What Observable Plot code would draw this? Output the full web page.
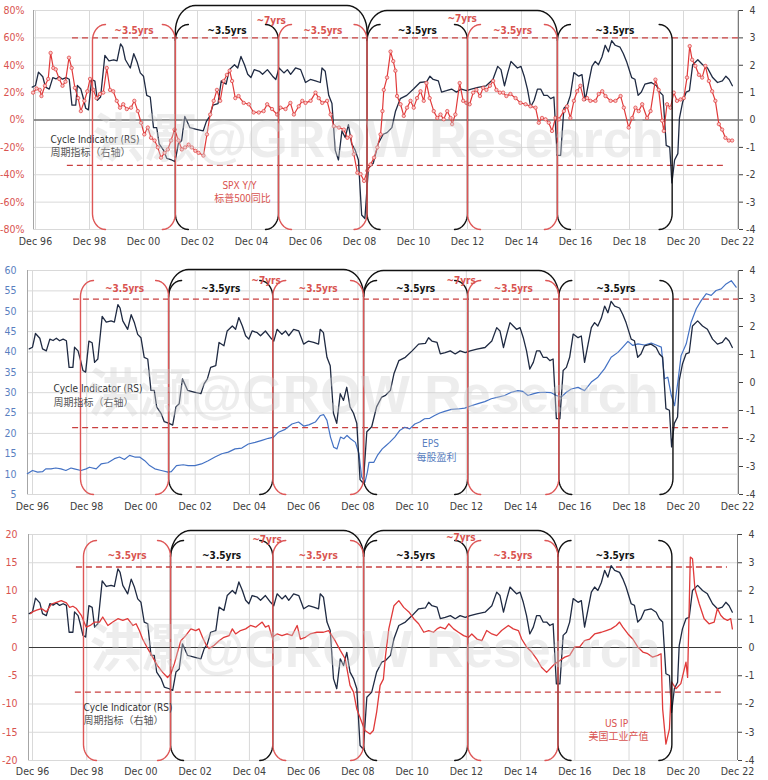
<!DOCTYPE html>
<html><head><meta charset="utf-8">
<script src="https://cdn.jsdelivr.net/npm/d3@7"></script>
<script src="https://cdn.jsdelivr.net/npm/@observablehq/plot@0.6"></script>
<style>
body{margin:0;background:#fff;}
#chart{width:768px;}
#chart svg{display:block;}
</style></head><body><div id="chart"></div>
<script>
// ---------- DATA ----------
const xTicks = [1996.92,1998.92,2000.92,2002.92,2004.92,2006.92,2008.92,2010.92,2012.92,2014.92,2016.92,2018.92,2020.92,2022.92];
const xTickLabels = ["Dec 96","Dec 98","Dec 00","Dec 02","Dec 04","Dec 06","Dec 08","Dec 10","Dec 12","Dec 14","Dec 16","Dec 18","Dec 20","Dec 22"];
const leftTicks1 = [-80,-60,-40,-20,0,20,40,60,80];
const leftTicks2 = [5,10,15,20,25,30,35,40,45,50,55,60];
const leftTicks3 = [-20,-15,-10,-5,0,5,10,15,20];
const rightTicks = [-4,-3,-2,-1,0,1,2,3,4];

// Cycle Indicator (RS, right axis) [year, value]
const cycle = [[1996.8,1.2],[1996.92,1.26],[1997.03,1.75],[1997.19,1.58],[1997.29,1.2],[1997.43,1.13],[1997.56,1.55],[1997.68,1.5],[1997.8,1.58],[1997.92,1.49],[1998.05,1.55],[1998.17,1.49],[1998.27,0.54],[1998.41,0.54],[1998.47,1.26],[1998.6,1.13],[1998.68,0.84],[1998.78,0.43],[1998.88,0.37],[1999.0,1.48],[1999.12,1.42],[1999.21,0.72],[1999.33,0.84],[1999.49,2.36],[1999.64,2.16],[1999.82,2.2],[1999.94,2.16],[2000.07,2.78],[2000.15,2.66],[2000.25,2.2],[2000.43,1.9],[2000.56,2.42],[2000.68,2.13],[2000.8,1.72],[2000.92,1.6],[2001.04,0.9],[2001.17,0.84],[2001.29,-0.28],[2001.41,-0.28],[2001.5,-0.87],[2001.66,-1.1],[2001.78,-1.4],[2001.96,-1.46],[2002.09,-1.52],[2002.21,-0.87],[2002.33,-0.76],[2002.45,0.13],[2002.64,-0.28],[2002.88,-0.34],[2003.13,-0.4],[2003.25,-0.05],[2003.37,0.13],[2003.49,0.54],[2003.68,0.6],[2003.8,1.43],[2003.98,1.31],[2004.1,1.84],[2004.29,2.02],[2004.41,1.9],[2004.53,2.32],[2004.66,2.02],[2004.78,1.67],[2004.9,1.55],[2005.02,1.84],[2005.21,1.78],[2005.33,1.67],[2005.51,1.84],[2005.7,1.6],[2005.82,1.48],[2005.94,1.9],[2006.12,1.72],[2006.25,1.84],[2006.37,1.67],[2006.55,1.9],[2006.74,1.84],[2006.92,1.37],[2007.1,1.48],[2007.29,1.43],[2007.47,1.37],[2007.53,1.9],[2007.65,1.78],[2007.78,0.9],[2007.9,0.6],[2008.02,-1.1],[2008.14,-1.46],[2008.27,-0.4],[2008.39,-0.64],[2008.51,-0.17],[2008.63,-0.87],[2008.76,-1.1],[2008.88,-1.46],[2009.0,-3.47],[2009.12,-3.6],[2009.25,-1.76],[2009.43,-1.58],[2009.61,-0.87],[2009.8,-0.52],[2009.94,-0.46],[2010.12,-0.28],[2010.25,0.31],[2010.43,0.78],[2010.67,0.9],[2010.92,1.13],[2011.16,1.37],[2011.41,1.4],[2011.53,1.6],[2011.65,1.48],[2011.84,1.43],[2011.96,1.02],[2012.14,1.07],[2012.33,1.13],[2012.51,1.02],[2012.69,1.13],[2012.88,1.07],[2013.06,1.13],[2013.31,1.19],[2013.61,1.25],[2013.86,1.48],[2014.04,1.96],[2014.16,1.84],[2014.29,1.25],[2014.41,1.72],[2014.53,2.14],[2014.65,2.02],[2014.77,1.9],[2014.9,1.96],[2015.02,1.6],[2015.14,1.13],[2015.26,0.48],[2015.39,0.72],[2015.51,1.13],[2015.63,1.13],[2015.75,0.9],[2015.88,0.9],[2016.0,0.78],[2016.12,0.84],[2016.24,-1.29],[2016.37,-1.29],[2016.49,0.43],[2016.61,0.54],[2016.73,0.9],[2016.86,1.73],[2017.04,1.6],[2017.16,1.66],[2017.28,0.72],[2017.41,1.37],[2017.53,1.96],[2017.65,2.14],[2017.77,2.02],[2017.9,2.3],[2018.02,2.73],[2018.14,2.49],[2018.26,2.9],[2018.39,2.73],[2018.57,2.66],[2018.69,2.43],[2018.81,2.14],[2019.0,1.55],[2019.12,1.49],[2019.24,0.9],[2019.36,1.02],[2019.49,1.31],[2019.73,1.37],[2019.92,1.25],[2020.04,1.02],[2020.16,0.9],[2020.28,-0.93],[2020.41,-0.99],[2020.49,-2.3],[2020.59,-1.46],[2020.71,-1.23],[2020.77,0.07],[2020.89,0.66],[2021.02,1.02],[2021.14,1.07],[2021.26,2.02],[2021.45,2.2],[2021.63,2.02],[2021.81,1.9],[2022.0,1.55],[2022.18,1.37],[2022.36,1.43],[2022.49,1.6],[2022.61,1.48],[2022.73,1.25]];

// SPX Y/Y % (left axis, panel 1)
const spx = [[1996.83,20],[1996.96,23],[1997.08,22],[1997.14,17.5],[1997.27,25],[1997.39,30],[1997.48,49],[1997.58,38],[1997.67,37],[1997.8,30],[1997.92,25],[1998.03,28],[1998.16,45.5],[1998.26,38],[1998.38,23.5],[1998.5,16],[1998.6,6.5],[1998.73,14],[1998.84,21],[1998.94,30],[1999.06,22],[1999.18,16],[1999.31,19],[1999.43,20],[1999.56,38],[1999.68,22],[1999.8,21],[1999.93,14],[2000.05,9],[2000.17,11.5],[2000.3,8],[2000.46,9],[2000.58,14],[2000.71,6.5],[2000.83,-2],[2000.95,-10.5],[2001.08,-5.5],[2001.2,-13],[2001.33,-15],[2001.45,-20],[2001.57,-27.5],[2001.7,-24],[2001.82,-21.5],[2001.94,-15],[2002.07,-7],[2002.22,-15],[2002.34,-21.5],[2002.46,-20],[2002.59,-18],[2002.71,-20],[2002.84,-22.5],[2002.96,-24],[2003.14,-26],[2003.27,-10.5],[2003.39,4],[2003.52,14],[2003.64,22],[2003.76,14],[2003.89,28.5],[2004.01,33],[2004.11,36],[2004.2,28.5],[2004.32,16],[2004.44,17.5],[2004.63,12.5],[2004.82,11.5],[2005.0,5.5],[2005.19,5.5],[2005.37,6.5],[2005.5,11.5],[2005.68,8],[2005.87,4],[2005.99,9],[2006.18,8],[2006.36,12.5],[2006.49,4],[2006.67,10],[2006.8,14],[2006.92,12.5],[2007.11,14],[2007.29,20],[2007.41,16],[2007.54,12.5],[2007.72,14],[2007.85,4],[2007.97,-4.5],[2008.16,-5.5],[2008.34,-7],[2008.47,-13],[2008.59,-12],[2008.71,-25],[2008.84,-38.5],[2008.96,-39.5],[2009.09,-44.5],[2009.21,-37],[2009.33,-32.5],[2009.46,-27.5],[2009.58,-20],[2009.7,-10.5],[2009.77,6.5],[2009.82,22],[2009.94,31],[2010.07,50],[2010.17,43],[2010.25,36],[2010.31,17.5],[2010.44,11.5],[2010.56,3],[2010.68,9],[2010.81,14],[2010.93,9],[2011.05,16],[2011.18,21],[2011.3,14],[2011.4,27],[2011.52,16],[2011.67,6.5],[2011.8,1.5],[2011.92,4],[2012.04,0.5],[2012.17,6.5],[2012.29,1.5],[2012.35,-3],[2012.47,4],[2012.63,27],[2012.76,14],[2012.88,12.5],[2013.0,11.5],[2013.13,20],[2013.25,22],[2013.38,17.5],[2013.5,23.5],[2013.62,22],[2013.75,25],[2013.87,28.5],[2013.99,22],[2014.12,20],[2014.24,20],[2014.36,17.5],[2014.51,19],[2014.7,16],[2014.88,12.5],[2015.07,11.5],[2015.25,10],[2015.44,9],[2015.56,-2],[2015.68,1.5],[2015.81,0.5],[2015.93,-2],[2016.05,-8],[2016.18,1.5],[2016.3,0.5],[2016.49,6.5],[2016.61,10],[2016.73,1.5],[2016.86,14],[2016.98,21],[2017.1,25],[2017.23,15],[2017.35,16],[2017.47,14],[2017.66,14],[2017.78,19],[2017.91,21],[2018.03,17.5],[2018.22,14],[2018.4,14],[2018.59,17.5],[2018.71,9],[2018.89,-5.5],[2019.02,1.5],[2019.14,9],[2019.26,6.5],[2019.39,11.5],[2019.57,1.5],[2019.7,6.5],[2019.88,29.5],[2020.0,22],[2020.13,-0.5],[2020.19,-8],[2020.31,11.5],[2020.44,9],[2020.56,20],[2020.68,14],[2020.81,15],[2020.93,16],[2021.05,31],[2021.15,54],[2021.24,44],[2021.36,39.5],[2021.49,33],[2021.61,31],[2021.73,39.5],[2021.86,28.5],[2021.98,21],[2022.1,14],[2022.23,-3],[2022.35,-7],[2022.47,-13],[2022.6,-15],[2022.72,-15]];

// EPS (left axis, panel 2)
const eps = [[1996.73,10.1],[1996.92,10.9],[1997.11,10.5],[1997.29,10.6],[1997.41,11.3],[1997.6,11.3],[1997.78,11.5],[1997.97,11.3],[1998.15,10.9],[1998.34,11.5],[1998.46,11.3],[1998.71,10.9],[1998.9,11.3],[1999.02,11.7],[1999.27,11.3],[1999.45,12.5],[1999.7,12.8],[1999.94,13.8],[2000.13,14.2],[2000.31,13.6],[2000.5,14.6],[2000.69,14.2],[2000.87,14.2],[2001.06,13.3],[2001.24,12.1],[2001.43,11.3],[2001.67,10.9],[2001.92,10.5],[2002.04,10.6],[2002.23,12.1],[2002.48,12.3],[2002.66,12.1],[2002.91,12.1],[2003.15,12.5],[2003.4,13.3],[2003.65,14.2],[2003.9,15],[2004.14,15.4],[2004.39,16.2],[2004.64,16.4],[2004.88,17.4],[2005.13,17.8],[2005.38,18.3],[2005.62,18.8],[2005.81,19.1],[2005.99,20.3],[2006.24,21],[2006.49,22.3],[2006.73,22.8],[2006.92,21.8],[2007.11,22.1],[2007.35,22.8],[2007.54,24.4],[2007.66,24.6],[2007.78,23.2],[2007.91,19.1],[2008.03,16.6],[2008.15,16.2],[2008.28,19.1],[2008.4,18.7],[2008.52,19.5],[2008.65,18.7],[2008.83,17.8],[2008.96,15],[2009.06,9.3],[2009.18,8],[2009.27,10.5],[2009.33,12.9],[2009.51,12.9],[2009.64,14.6],[2009.82,16.2],[2009.94,16.9],[2010.09,17.8],[2010.28,19.1],[2010.46,20.7],[2010.65,21.5],[2010.83,21.1],[2011.02,22.3],[2011.2,22.8],[2011.38,23.6],[2011.57,23.7],[2011.75,24.4],[2011.94,25],[2012.12,25.4],[2012.37,25.9],[2012.61,26],[2012.86,26.2],[2013.1,26.8],[2013.35,27.3],[2013.6,27.8],[2013.84,28.5],[2014.09,28.9],[2014.33,29.3],[2014.58,30.1],[2014.82,30.5],[2015.01,30.3],[2015.19,29.3],[2015.38,29.7],[2015.56,30],[2015.81,30.1],[2016.05,30],[2016.24,29.3],[2016.42,28.9],[2016.61,30.1],[2016.79,30.9],[2017.04,31.3],[2017.28,30.5],[2017.53,32.6],[2017.77,33.8],[2018.02,35.9],[2018.26,38.7],[2018.51,39.9],[2018.69,41.2],[2018.88,42.6],[2019.06,41.6],[2019.25,42],[2019.49,41.7],[2019.74,42.2],[2019.92,41.7],[2020.11,41.2],[2020.23,33.4],[2020.35,33.8],[2020.48,29.3],[2020.6,26.8],[2020.72,32.6],[2020.84,39.1],[2021.03,42],[2021.21,47.3],[2021.4,50.6],[2021.58,52.6],[2021.77,54.3],[2021.95,53.9],[2022.13,55.1],[2022.32,55.5],[2022.5,56.7],[2022.69,57.5],[2022.87,55.9]];

// US IP (left axis, panel 3)
const usip = [[1996.85,6.0],[1996.92,6.3],[1997.07,6.6],[1997.25,6.9],[1997.43,6.3],[1997.62,7.7],[1997.8,8.0],[1997.98,8.3],[1998.17,7.9],[1998.29,7.1],[1998.41,7.3],[1998.54,6.9],[1998.72,5.7],[1998.9,3.6],[1999.05,3.9],[1999.21,4.5],[1999.39,4.5],[1999.51,5.4],[1999.7,3.9],[1999.88,4.5],[2000.07,5.1],[2000.25,4.8],[2000.43,5.1],[2000.62,3.9],[2000.74,4.2],[2000.86,3.0],[2000.98,1.5],[2001.17,-0.2],[2001.35,-1.7],[2001.53,-3.2],[2001.72,-4.4],[2001.9,-5.3],[2002.02,-4.7],[2002.15,-2.9],[2002.27,-0.8],[2002.39,1.2],[2002.57,2.1],[2002.76,3.3],[2002.94,3.0],[2003.06,3.3],[2003.19,1.8],[2003.31,0.6],[2003.43,-0.2],[2003.62,0.4],[2003.8,1.2],[2003.98,1.8],[2004.17,2.1],[2004.29,3.3],[2004.41,2.4],[2004.59,3.0],[2004.78,3.3],[2004.96,3.9],[2005.15,3.6],[2005.39,4.5],[2005.51,3.6],[2005.63,3.9],[2005.76,1.8],[2005.94,2.4],[2006.12,2.1],[2006.31,2.4],[2006.49,2.1],[2006.68,3.9],[2006.8,1.5],[2006.98,1.8],[2007.16,2.4],[2007.41,2.7],[2007.65,2.7],[2007.84,3.0],[2007.96,2.1],[2008.08,1.2],[2008.27,-0.5],[2008.45,-2.0],[2008.63,-6.7],[2008.76,-7.9],[2008.88,-10.9],[2009.06,-13.2],[2009.18,-14.7],[2009.37,-15.3],[2009.49,-14.7],[2009.61,-11.5],[2009.74,-6.7],[2009.86,-5.6],[2009.94,-1.4],[2010.06,3.3],[2010.25,7.4],[2010.43,8.3],[2010.61,7.1],[2010.8,6.3],[2010.98,5.1],[2011.16,4.2],[2011.35,2.7],[2011.53,3.0],[2011.71,2.7],[2011.84,3.3],[2011.96,3.6],[2012.14,3.3],[2012.27,4.2],[2012.45,3.3],[2012.63,2.7],[2012.82,2.1],[2013.0,1.8],[2013.12,2.4],[2013.31,1.5],[2013.49,1.2],[2013.67,3.0],[2013.86,2.4],[2014.04,2.1],[2014.22,3.0],[2014.47,3.9],[2014.65,3.3],[2014.84,3.0],[2014.96,1.5],[2015.14,0.1],[2015.33,-0.8],[2015.51,-2.0],[2015.69,-3.5],[2015.88,-4.4],[2016.06,-3.5],[2016.18,-2.9],[2016.37,-2.3],[2016.55,-1.7],[2016.73,-1.4],[2016.92,0.1],[2017.1,0.1],[2017.28,1.2],[2017.47,1.5],[2017.65,2.4],[2017.9,2.7],[2018.08,3.0],[2018.26,3.3],[2018.45,3.9],[2018.57,4.5],[2018.69,3.6],[2018.88,2.4],[2019.06,1.5],[2019.24,0.1],[2019.43,-0.8],[2019.61,-1.1],[2019.79,-1.7],[2019.98,-1.4],[2020.1,-1.1],[2020.16,-10.9],[2020.28,-17.1],[2020.41,-14.4],[2020.49,-6.1],[2020.65,-7.3],[2020.83,-6.4],[2021.02,-2.6],[2021.08,-5.3],[2021.18,16.0],[2021.26,15.7],[2021.35,10.4],[2021.51,7.7],[2021.69,5.1],[2021.87,4.2],[2022.06,4.5],[2022.18,6.9],[2022.3,5.7],[2022.42,5.1],[2022.55,4.8],[2022.67,5.1],[2022.73,3.3]];

// Cycle boundaries (years) per panel, and bracket colours / labels
const bounds1 = [1999.03, 2002.1, 2005.92, 2009.2, 2012.92, 2016.25, 2020.5];
const bounds2 = [1998.69, 2001.94, 2005.78, 2009.13, 2012.97, 2016.33, 2020.54];
const bounds3 = [1998.8, 2002.01, 2005.78, 2009.13, 2012.97, 2016.3, 2020.5];
const segColors = ["red","black","red","black","red","black"];
const segLabel = "~3.5yrs";
const bigLabel = "~7yrs";

// Threshold dashed lines (right-axis units) with their year spans
const dash1 = [{v:3.0, x1:1998.29, x2:2022.957},{v:-1.66, x1:1998.10, x2:2022.40}];
const dash2 = [{v:2.98, x1:1998.43, x2:2022.957},{v:-1.61, x1:1998.40, x2:2022.64}];
const dash3 = [{v:2.85, x1:1998.54, x2:2022.55},{v:-1.58, x1:1998.50, x2:2022.44}];

// ---------- STYLE ----------
const FONT = '"Liberation Sans Narrow","DejaVu Sans Condensed","Liberation Sans","Noto Sans CJK SC",sans-serif';
const CJK = '"Noto Sans CJK SC",sans-serif';
const NAVY = "#1f2a42", RED = "#e03a3a", BLUE = "#4472c4";
const RED_TXT = "#d9534f", BLUE_TXT = "#5a7fbf", GRAY_TXT = "#404040";
const BR_RED = "#de5656", BR_BLACK = "#111111", DASH = "#c94040", GRID = "#d9d9d9";

const W = 768;
const cfgs = [
  {height:255, mT:10, mB:26, mL:33, mR:30, x:[1996.846,2022.957], y:[-80,80], toL:r=>20*r,
   leftTicks:leftTicks1, leftFmt:d=>d+"%", leftColor:RED_TXT, lPad:9, xPad:8, zero:true,
   bounds:bounds1, dash:dash1, smallTop:14, bigTop:[5,0], lblDy:16, bigLblDy:[6,4]},
  {height:260, mT:15, mB:21, mL:27, mR:30, x:[1996.736,2022.957], y:[5,60], toL:r=>32.5+6.875*r,
   leftTicks:leftTicks2, leftFmt:d=>String(d), leftColor:BLUE_TXT, lPad:11, xPad:8, zero:false,
   bounds:bounds2, dash:dash2, smallTop:10, bigTop:[1,0], lblDy:14, bigLblDy:[6,6]},
  {height:265, mT:19, mB:20, mL:28, mR:31, x:[1996.772,2022.92], y:[-20,20], toL:r=>5*r,
   leftTicks:leftTicks3, leftFmt:d=>String(d), leftColor:RED_TXT, lPad:11, xPad:7, zero:true,
   bounds:bounds3, dash:dash3, smallTop:6, bigTop:[4,4], lblDy:17, bigLblDy:[1,-1]}
];

function xFmt(d){ let best=0; xTicks.forEach((t,i)=>{ if(Math.abs(t-d)<Math.abs(xTicks[best]-d)) best=i; }); return xTickLabels[best]; }

function bracketData(c){
  const pxX = (W - c.mL - c.mR)/(c.x[1]-c.x[0]);
  const pxY = (c.height - c.mT - c.mB)/(c.y[1]-c.y[0]);
  const rx = 13/pxX, ry = 16/pxY, RX = 20/pxX, RY = 26/pxY;
  const yT = c.y[1] - c.smallTop/pxY, yB = c.y[0];
  const arc = (cx, cy, ax, ay, a0, a1) => d3.range(0, 11).map(i => {
    const a = (a0 + (a1-a0)*i/10)*Math.PI/180; return [cx + ax*Math.cos(a), cy + ay*Math.sin(a)];
  });
  const red = [], black = [], big = [];
  let id = 0;
  segColors.forEach((col, i) => {
    const xa = c.bounds[i], xb = c.bounds[i+1];
    const L = [...arc(xa+rx, yT-ry, rx, ry, 90, 180), ...arc(xa+rx, yB+ry, rx, ry, 180, 270)];
    const R = [...arc(xb-rx, yT-ry, rx, ry, 90, 0), ...arc(xb-rx, yB+ry, rx, ry, 0, -90)];
    const tgt = col === "red" ? red : black;
    id++; L.forEach(p => tgt.push({x:p[0], y:p[1], id}));
    id++; R.forEach(p => tgt.push({x:p[0], y:p[1], id}));
  });
  [[1,3],[3,5]].forEach(([a,b], k) => {
    const xa = c.bounds[a], xb = c.bounds[b];
    const yT2 = c.y[1] + c.bigTop[k]/pxY;
    const pts = [[xa, yT-ry], ...arc(xa+RX, yT2-RY, RX, RY, 180, 90), ...arc(xb-RX, yT2-RY, RX, RY, 90, 0), [xb, yT-ry]];
    id++; pts.forEach(p => big.push({x:p[0], y:p[1], id}));
  });
  const lblRed = [], lblBlack = [];
  segColors.forEach((col, i) => {
    const o = {x:(c.bounds[i]+c.bounds[i+1])/2, t:segLabel};
    (col === "red" ? lblRed : lblBlack).push(o);
  });
  const lblBig = [[1,3],[3,5]].map(([a,b],k) => ({x:(c.bounds[a]+c.bounds[b])/2, t:bigLabel, dy:c.bigLblDy[k]}));
  return {red, black, big, lblRed, lblBlack, lblBig};
}

function panel(c, seriesMarks, texts){
  const b = bracketData(c);
  const fromL = v => Math.round((v - c.toL(0)) / (c.toL(1) - c.toL(0)));
  const marks = [
    Plot.gridX(xTicks, {stroke: GRID, strokeOpacity: 1}),
    Plot.gridY(c.leftTicks, {stroke: GRID, strokeOpacity: 1}),
    c.zero ? Plot.ruleY([0], {stroke: "#3a3a3a", strokeWidth: 1}) : null,
    Plot.ruleX([c.x[0]], {stroke: "#a6a6a6"}),
    Plot.ruleX([c.x[1]], {stroke: "#7a7a7a"}),
    Plot.ruleY(c.dash, {y: d => c.toL(d.v), x1: "x1", x2: "x2", stroke: DASH, strokeWidth: 1.3, strokeDasharray: "6,4"}),
    ...seriesMarks,
    Plot.line(b.big, {x: "x", y: "y", z: "id", stroke: BR_BLACK, strokeWidth: 1.4}),
    Plot.line(b.black, {x: "x", y: "y", z: "id", stroke: BR_BLACK, strokeWidth: 1.4}),
    Plot.line(b.red, {x: "x", y: "y", z: "id", stroke: BR_RED, strokeWidth: 1.4}),
    Plot.text(b.lblRed, {x: "x", frameAnchor: "top", dy: c.lblDy, text: "t", fill: RED_TXT, fontWeight: "bold", fontSize: 10}),
    Plot.text(b.lblBlack, {x: "x", frameAnchor: "top", dy: c.lblDy, text: "t", fill: "#111", fontWeight: "bold", fontSize: 10}),
    ...b.lblBig.map(d => Plot.text([d], {x: "x", frameAnchor: "top", dy: d.dy, text: "t", fill: RED_TXT, fontWeight: "bold", fontSize: 10})),
    Plot.axisX(xTicks, {tickSize: 0, tickPadding: c.xPad, tickFormat: xFmt, color: GRAY_TXT, fontSize: 10.5, label: null}),
    Plot.axisY(c.leftTicks, {anchor: "left", tickSize: 0, tickPadding: c.lPad, tickFormat: c.leftFmt, color: c.leftColor, fontSize: 10.5, label: null}),
    Plot.axisY(rightTicks.map(c.toL), {anchor: "right", tickSize: 4, tickPadding: 13, textAnchor: "end", tickFormat: d => String(fromL(d)), color: GRAY_TXT, fontSize: 10.5, label: null}),
    ...texts.map(t => Plot.text([t.s], {frameAnchor: "top-left", dx: t.X - c.mL, dy: t.Y - c.mT, text: d => d,
      textAnchor: t.a, fill: t.f, fontSize: t.fs, fontFamily: t.cjk ? CJK : FONT})),
    Plot.text(["洪灏@GROW Research"], {frameAnchor: "middle", dx: c.wmDx, dy: c.wmDy, text: d => d,
      fontSize: 52, fontWeight: "bold", fill: "#cfcfcf", fillOpacity: 0.38, fontFamily: '"Liberation Sans","Noto Sans CJK SC",sans-serif'})
  ].filter(Boolean);
  return Plot.plot({
    width: W, height: c.height, marginTop: c.mT, marginBottom: c.mB, marginLeft: c.mL, marginRight: c.mR,
    x: {type: "linear", domain: c.x, axis: null},
    y: {type: "linear", domain: c.y, axis: null},
    style: {fontFamily: FONT, fontSize: "10.5px", background: "#fff", overflow: "visible"},
    marks
  });
}

cfgs[0].wmDx = -8; cfgs[0].wmDy = 20;
cfgs[1].wmDx = -10; cfgs[1].wmDy = 13;
cfgs[2].wmDx = -8; cfgs[2].wmDy = 3;

const c1 = cfgs[0], c2 = cfgs[1], c3 = cfgs[2];
const p1 = panel(c1, [
  Plot.line(cycle, {x: d => d[0], y: d => c1.toL(d[1]), stroke: NAVY, strokeWidth: 1.3}),
  Plot.line(spx, {x: d => d[0], y: d => d[1], stroke: RED, strokeWidth: 1.2}),
  Plot.dot(spx, {x: d => d[0], y: d => d[1], r: 1.7, stroke: RED, strokeWidth: 0.7, fill: "#f8c8c8"})
], [
  {s: "Cycle Indicator (RS)", X: 50, Y: 135, a: "start", f: "#333", fs: 10},
  {s: "周期指标（右轴）", X: 50, Y: 148, a: "start", f: "#555", fs: 10, cjk: true},
  {s: "SPX Y/Y", X: 239, Y: 181, a: "middle", f: RED_TXT, fs: 10},
  {s: "标普500同比", X: 242, Y: 194, a: "middle", f: RED_TXT, fs: 10, cjk: true}
]);
const p2 = panel(c2, [
  Plot.line(eps, {x: d => d[0], y: d => d[1], stroke: BLUE, strokeWidth: 1.2}),
  Plot.line(cycle, {x: d => d[0], y: d => c2.toL(d[1]), stroke: NAVY, strokeWidth: 1.3})
], [
  {s: "Cycle Indicator (RS)", X: 53, Y: 129, a: "start", f: "#333", fs: 10},
  {s: "周期指标（右轴）", X: 53, Y: 143, a: "start", f: "#555", fs: 10, cjk: true},
  {s: "EPS", X: 430, Y: 184, a: "middle", f: BLUE_TXT, fs: 10},
  {s: "每股盈利", X: 436, Y: 198, a: "middle", f: BLUE_TXT, fs: 10, cjk: true}
]);
const p3 = panel(c3, [
  Plot.line(cycle, {x: d => d[0], y: d => c3.toL(d[1]), stroke: NAVY, strokeWidth: 1.3}),
  Plot.line(usip, {x: d => d[0], y: d => d[1], stroke: RED, strokeWidth: 1.3})
], [
  {s: "Cycle Indicator (RS)", X: 83, Y: 188, a: "start", f: "#333", fs: 10},
  {s: "周期指标（右轴）", X: 83, Y: 201, a: "start", f: "#555", fs: 10, cjk: true},
  {s: "US IP", X: 616, Y: 204, a: "middle", f: RED_TXT, fs: 10},
  {s: "美国工业产值", X: 618, Y: 217, a: "middle", f: RED_TXT, fs: 10, cjk: true}
]);
const root = document.getElementById("chart");
root.append(p1, p2, p3);
</script>
</body></html>
